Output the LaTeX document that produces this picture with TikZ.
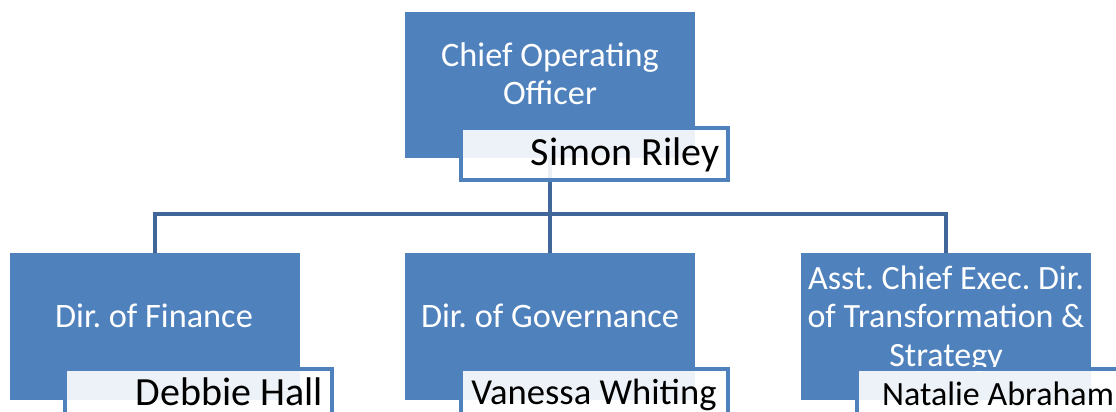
\documentclass[tikz,border=0pt]{standalone}
\usepackage{fontspec}
\setmainfont{Carlito}
\frenchspacing
\definecolor{boxblue}{HTML}{4F81BD}
\definecolor{lineblue}{HTML}{41679A}
\begin{document}
\begin{tikzpicture}[x=1pt,y=-1pt,
  titlebox/.style={fill=boxblue, draw=none, minimum width=290pt, minimum height=146pt, inner sep=0pt, outer sep=0pt},
  namebox/.style={fill=white, fill opacity=0.9, draw=boxblue, draw opacity=1, line width=4pt, minimum width=267pt, minimum height=52pt, inner sep=0pt},
  titletext/.style={text=white, font=\fontsize{34.3}{37.3}\selectfont, align=center, inner sep=0pt, anchor=base},
  nametext/.style={text=black, font=\fontsize{40}{48}\selectfont, inner sep=0pt, anchor=base},
  link/.style={draw=lineblue, line width=4pt}]
\useasboundingbox (0,0) rectangle (1116,412);
\clip (0,0) rectangle (1116,412);
% blue boxes
\node[titlebox] (coo) at (550,85) {};
\node[titlebox, minimum height=147pt] (fin) at (154.5,326.5) {};
\node[titlebox, minimum height=147pt] (gov) at (550,326.5) {};
\node[titlebox, minimum height=147pt] (str) at (946,326.5) {};
% connectors
\coordinate (bus) at (550,214);
\draw[link] (coo.south) -- (bus);
\draw[link] (fin.north) |- (bus) -| (str.north);
\draw[link] (bus) -- (gov.north);
% title texts (base anchor = last line's baseline)
\node[titletext] (cootext) at (550,104) {Chief Operating\\Officer};
\node[titletext] (fintext) at (154,327) {Dir. of Finance};
\node[titletext] (govtext) at (550,327) {Dir. of Governance};
\node[titletext, font=\fontsize{34}{38.5}\selectfont] (strtext) at (946,366) {Asst. Chief Exec. Dir.\\of Transformation \&\\Strategy};
% name boxes
\node[namebox] (cooname) at (594.5,154) {};
\node[namebox] (finname) at (198.5,395) {};
\node[namebox] (govname) at (594.5,395) {};
\node[namebox] (strname) at (990,395) {};
% names
\node[nametext] (coonametext) at (625,165) {Simon Riley};
\node[nametext] (finnametext) at (229.5,405) {Debbie Hall};
\node[nametext, font=\fontsize{36.6}{44}\selectfont] (govnametext) at (594,404) {Vanessa Whiting};
\node[nametext, font=\fontsize{34}{40}\selectfont, anchor=base west] (strnametext) at (882,405) {Natalie Abraham};
\end{tikzpicture}
\end{document}
